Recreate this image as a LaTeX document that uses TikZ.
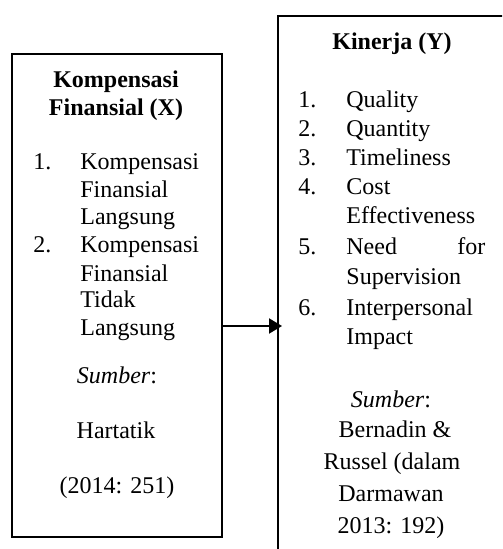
\documentclass[tikz,border=0pt]{standalone}
\usepackage{fontspec}
\setmainfont{Liberation Serif}
\usetikzlibrary{arrows.meta}

\tikzset{
  framebox/.style={draw, line width=1.2pt, rectangle, inner sep=0pt, anchor=north west},
  headtxt/.style={anchor=base, inner sep=0pt, font=\fontsize{12}{14}\selectfont\bfseries},
  linetxt/.style={anchor=base, inner sep=0pt, font=\fontsize{12}{14}\selectfont},
  itemtxt/.style={linetxt, anchor=base west},
  linkarrow/.style={line width=1pt, -{Triangle[length=6.5pt, width=7.5pt]}}
}

\begin{document}
\begin{tikzpicture}[x=0.5pt, y=-0.5pt]
  \useasboundingbox (0,0) rectangle (502,549);
  \clip (0,0) rectangle (502,549);

  % Draw the two frames
  \node[framebox, minimum width=105pt, minimum height=241.5pt] (kompBox) at (11,53) {};
  \node[framebox, minimum width=125pt, minimum height=285pt] (kinerjaBox) at (277,15) {};

  % Left frame: Kompensasi Finansial
  \node[headtxt] (kompHeadA) at (116,88) {Kompensasi};
  \node[headtxt] (kompHeadB) at (116,116) {Finansial (X)};
  \node[itemtxt] (kompNumA) at (33,170) {1.};
  \node[itemtxt] (kompNumB) at (33,253) {2.};
  \foreach \yy/\word [count=\i] in {170/Kompensasi, 198/Finansial, 225/Langsung,
      253/Kompensasi, 281/Finansial, 307/Tidak, 335/Langsung}
    \node[itemtxt] (kompLine\i) at (80,\yy) {\word};
  \node[linetxt] (kompSrcA) at (117,383) {\textit{Sumber}:};
  \node[linetxt] (kompSrcB) at (116,438) {Hartatik};
  \node[linetxt] (kompSrcC) at (117,493) {(2014: 251)};

  % Right frame: Kinerja
  \node[headtxt] (kinHead) at (392,50) {Kinerja (Y)};
  \foreach \yy/\num [count=\i] in {108/1., 137/2., 166/3., 195/4., 255/5., 315/6.}
    \node[itemtxt] (kinNum\i) at (298,\yy) {\num};
  \foreach \yy/\word [count=\i] in {108/Quality, 137/Quantity, 166/Timeliness,
      195/Cost, 224/Effectiveness, 255/{\makebox[69.5pt][s]{Need\hfill for}},
      285/Supervision, 315/Interpersonal, 344/Impact}
    \node[itemtxt] (kinLine\i) at (346,\yy) {\word};
  \node[linetxt] (kinSrcA) at (391,407) {\textit{Sumber}:};
  \node[linetxt] (kinSrcB) at (395,437) {Bernadin \&};
  \node[linetxt] (kinSrcC) at (392,469) {Russel (dalam};
  \node[linetxt] (kinSrcD) at (391,501) {Darmawan};
  \node[linetxt] (kinSrcE) at (391,533) {2013: 192)};

  % Draw the link
  \coordinate (linkFrom) at (kompBox.east |- 0,326);
  \coordinate (linkTo) at (282,326);
  \draw[linkarrow] (linkFrom) -- (linkTo);
\end{tikzpicture}
\end{document}
